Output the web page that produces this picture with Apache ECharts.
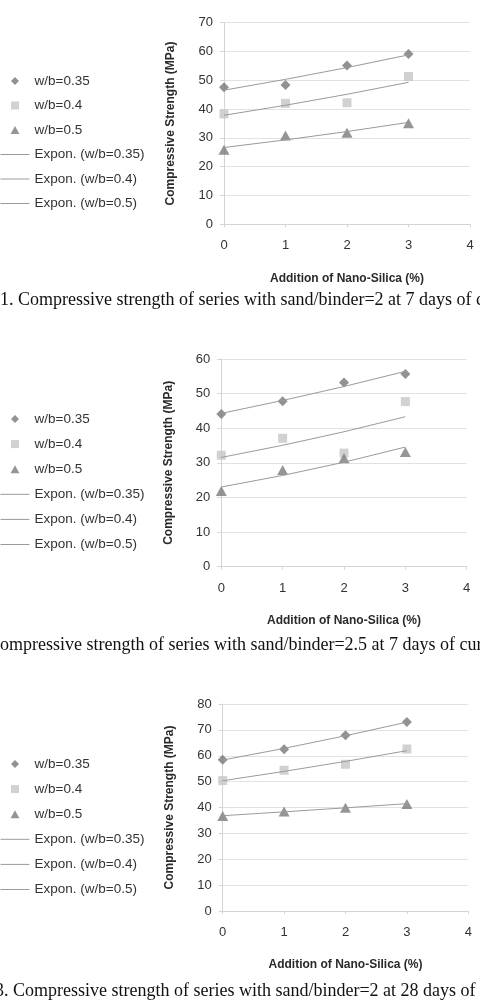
<!DOCTYPE html>
<html><head><meta charset="utf-8">
<script src="https://cdn.jsdelivr.net/npm/echarts@6/dist/echarts.min.js"></script>
<style>html,body{margin:0;padding:0;background:#fff}#c{width:480px;height:1004px}</style>
</head><body><div id="c"></div>
<script>
// ---- data ----
const xValues = [0, 1, 2, 3];
const seriesNames = ['w/b=0.35', 'w/b=0.4', 'w/b=0.5'];
const trendNames = ['Expon. (w/b=0.35)', 'Expon. (w/b=0.4)', 'Expon. (w/b=0.5)'];

// Fig 1: sand/binder=2, 7 days
const f1_wb035 = [47.6, 48.4, 55.1, 59.1];
const f1_wb04  = [38.3, 42.0, 42.2, 51.3];
const f1_wb05  = [25.9, 30.8, 31.8, 35.1];
const f1_r2    = ['0.9219', '0.8541', '0.9272'];
const f1_yMax  = 70;

// Fig 2: sand/binder=2.5, 7 days
const f2_wb035 = [44.1, 47.8, 53.2, 55.7];
const f2_wb04  = [32.2, 37.1, 32.8, 47.7];
const f2_wb05  = [21.9, 27.9, 31.3, 33.1];
const f2_r2    = ['0.9731', '0.5295', '0.9098'];
const f2_yMax  = 60;

// Fig 3: sand/binder=2, 28 days
const f3_wb035 = [58.5, 62.5, 67.9, 73.0];
const f3_wb04  = [50.4, 54.4, 56.7, 62.6];
const f3_wb05  = [36.7, 38.5, 39.9, 41.4];
const f3_r2    = ['0.9981', '0.9835', '0.9808'];
const f3_yMax  = 80;

const captions = [
  '1. Compressive strength of series with sand/binder=2 at 7 days of curing',
  'Compressive strength of series with sand/binder=2.5 at 7 days of curing',
  '3. Compressive strength of series with sand/binder=2 at 28 days of curing'
];

// ---- styling / layout ----
const FONT = 'Liberation Sans, Arial, sans-serif';
const markerSymbols = ['diamond', 'rect', 'triangle'];
const legendIcons = ['path://M5,0L10,5L5,10L0,5Z', 'path://M0,0H10V10H0Z', 'path://M5,0L10,9L0,9Z'];
const markerSizes = [10, 9, [11, 10]];
const markerColors = ['#777777', '#c6c6c6', '#7b7b7b'];
const trendColor = '#9a9a9a';

const panels = [
  { data: [f1_wb035, f1_wb04, f1_wb05], r2: f1_r2, yMax: f1_yMax,
    grid: { left: 224, top: 22.7, width: 246, height: 201.6 }, legendTop: 74, legendGap: 10.5, captionY: 301, captionX: 0 },
  { data: [f2_wb035, f2_wb04, f2_wb05], r2: f2_r2, yMax: f2_yMax,
    grid: { left: 221.3, top: 359, width: 245.4, height: 207.7 }, legendTop: 412, legendGap: 11.1, captionY: 646.7, captionX: -12 },
  { data: [f3_wb035, f3_wb04, f3_wb05], r2: f3_r2, yMax: f3_yMax,
    grid: { left: 222.7, top: 704, width: 245.6, height: 207 }, legendTop: 757, legendGap: 11.1, captionY: 992.3, captionX: -5 }
];

// Exponential trendline (least squares on ln y), as in a spreadsheet trendline
function expFit(xs, ys) {
  const n = xs.length;
  const ly = ys.map(v => Math.log(v));
  const mx = xs.reduce((a, b) => a + b, 0) / n;
  const my = ly.reduce((a, b) => a + b, 0) / n;
  let sxy = 0, sxx = 0;
  for (let i = 0; i < n; i++) { sxy += (xs[i] - mx) * (ly[i] - my); sxx += (xs[i] - mx) * (xs[i] - mx); }
  const b = sxy / sxx, a = my - b * mx;
  return xs.map(x => Math.exp(a + b * x));
}

const option = { animation: false, backgroundColor: '#fff',
  grid: [], xAxis: [], yAxis: [], series: [], legend: [], graphic: [] };

panels.forEach((p, gi) => {
  option.grid.push(Object.assign({ containLabel: false }, p.grid));
  option.xAxis.push({
    type: 'value', gridIndex: gi, min: 0, max: 4, interval: 1,
    name: 'Addition of Nano-Silica (%)', nameLocation: 'middle', nameGap: 48,
    nameTextStyle: { fontFamily: FONT, fontSize: 12, fontWeight: 'bold', color: '#2a2a2a' },
    axisLine: { show: true, onZero: false, lineStyle: { color: '#d4d4d4', width: 1 } },
    axisTick: { show: true, length: 3, lineStyle: { color: '#d4d4d4' } },
    axisLabel: { margin: 15, fontFamily: FONT, fontSize: 13, color: '#333' },
    splitLine: { show: false }
  });
  option.yAxis.push({
    type: 'value', gridIndex: gi, min: 0, max: p.yMax, interval: 10,
    name: 'Compressive Strength (MPa)', nameLocation: 'middle', nameGap: 47, nameRotate: 90,
    nameTextStyle: { fontFamily: FONT, fontSize: 12, fontWeight: 'bold', color: '#2a2a2a' },
    axisLine: { show: true, lineStyle: { color: '#d4d4d4', width: 1 } },
    axisTick: { show: true, length: 4, lineStyle: { color: '#d4d4d4' } },
    axisLabel: { margin: 11, fontFamily: FONT, fontSize: 13, color: '#333' },
    splitLine: { show: true, lineStyle: { color: '#e2e2e2', width: 1 } }
  });
  p.data.forEach((ys, si) => {
    option.series.push({
      type: 'scatter', name: seriesNames[si], xAxisIndex: gi, yAxisIndex: gi,
      symbol: markerSymbols[si], symbolSize: markerSizes[si],
      itemStyle: { color: markerColors[si] }, z: 2,
      data: xValues.map((x, i) => [x, ys[i]])
    });
  });
  p.data.forEach((ys, si) => {
    const fit = expFit(xValues, ys);
    option.series.push({
      type: 'line', name: trendNames[si], xAxisIndex: gi, yAxisIndex: gi,
      symbol: 'none', showSymbol: false, z: 3,
      lineStyle: { color: trendColor, width: 1 }, itemStyle: { color: trendColor },
      data: xValues.map((x, i) => {
        const pt = { value: [x, fit[i]] };
        if (i === xValues.length - 1) {
          pt.label = { show: true, position: 'left', distance: 8,
            formatter: 'R² = ' + p.r2[si], fontFamily: FONT, fontSize: 13, color: '#262626' };
        }
        return pt;
      })
    });
  });
  option.legend.push({
    orient: 'vertical', left: 0, top: p.legendTop, padding: 0,
    itemWidth: 29, itemHeight: 8, itemGap: p.legendGap, symbolKeepAspect: true,
    selectedMode: false,
    textStyle: { fontFamily: FONT, fontSize: 13.5, color: '#333' },
    data: seriesNames.map((n, i) => ({ name: n, icon: legendIcons[i], itemStyle: { color: markerColors[i] } }))
      .concat(trendNames.map(n => ({ name: n, itemStyle: { opacity: 0 }, lineStyle: { color: trendColor, width: 1 } })))
  });
  option.graphic.push({
    type: 'text', left: p.captionX, top: p.captionY - 10,
    style: { text: captions[gi], font: '18px "Liberation Serif", "Times New Roman", serif', fill: '#111' }
  });
});

const chart = echarts.init(document.getElementById('c'), null, { renderer: 'canvas' });
chart.setOption(option);
</script></body></html>
